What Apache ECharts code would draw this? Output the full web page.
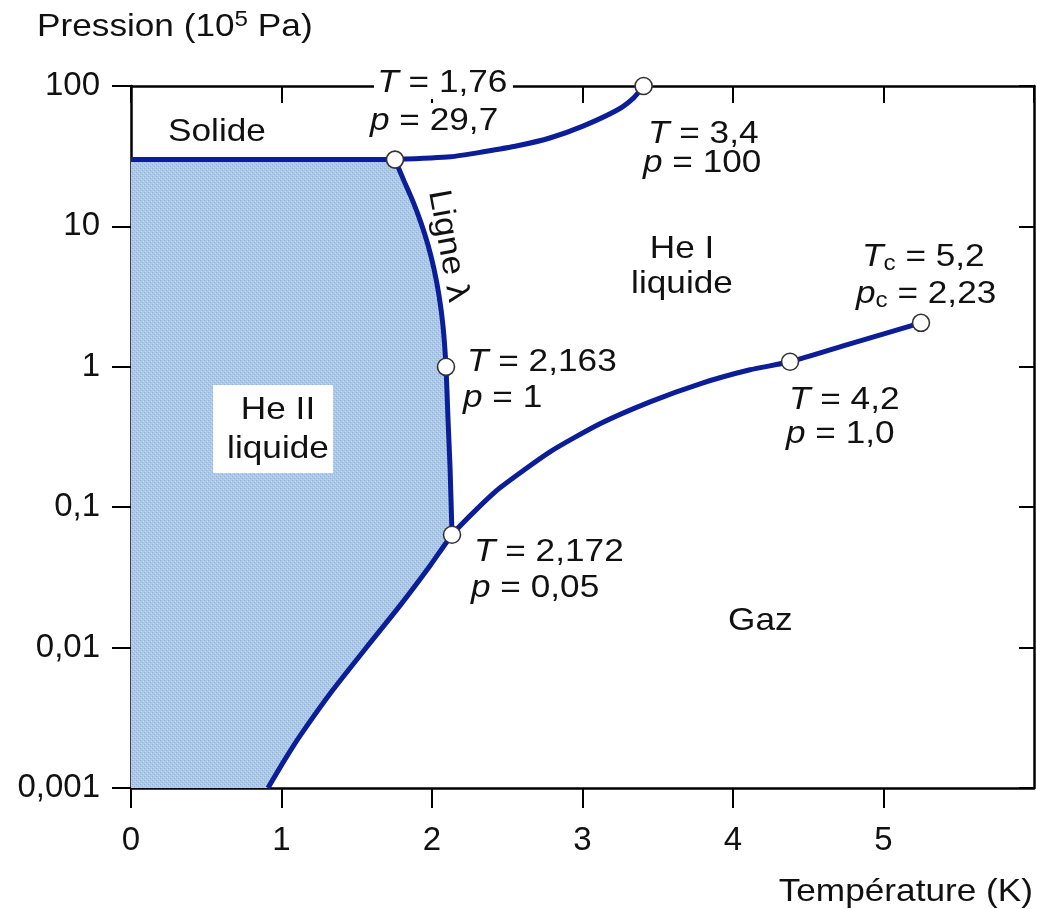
<!DOCTYPE html>
<html>
<head>
<meta charset="utf-8">
<script src="https://cdn.jsdelivr.net/npm/echarts@6/dist/echarts.min.js"></script>
<style>
html, body { margin: 0; padding: 0; background: #fff; }
#chart { width: 1037px; height: 909px; }
</style>
</head>
<body>
<div id="chart"></div>
<script>
// graduations
var xTicks = [0, 1, 2, 3, 4, 5];
var yTicks = [0.001, 0.01, 0.1, 1, 10, 100];
var yTickLabels = ['0,001', '0,01', '0,1', '1', '10', '100'];

// frontiere solide / He II (horizontale)
var solidT = [0, 1.754];
var solidP = [29.9, 29.9];
// courbe de fusion solide / He I
var meltT = [1.754, 2.123, 2.342, 2.568, 2.788, 3.007, 3.234, 3.340, 3.406];
var meltP = [29.9, 31.3, 34.0, 37.5, 42.8, 52.0, 67.7, 82.4, 100];
// ligne lambda
var lambdaT = [1.754, 1.814, 1.874, 1.927, 1.973, 2.013, 2.047, 2.073, 2.093, 2.106, 2.120, 2.133];
var lambdaP = [29.9, 21.1, 15.0, 10.6, 7.40, 4.99, 3.20, 1.96, 1.0, 0.433, 0.191, 0.0636];
// courbe de vaporisation
var vapT = [0.91, 1.017, 1.123, 1.342, 1.568, 1.787, 1.987, 2.133, 2.286, 2.452, 2.784, 3.116, 3.449, 3.781, 4.113, 4.379, 4.777, 5.249];
var vapP = [0.001, 0.00156, 0.00235, 0.0050, 0.01014, 0.0199, 0.0383, 0.0636, 0.0942, 0.1375, 0.248, 0.393, 0.563, 0.757, 0.952, 1.086, 1.458, 2.057];
// points remarquables
var ptT = [1.754, 3.406, 2.093, 2.133, 4.379, 5.249];
var ptP = [29.9, 100, 1.0, 0.0636, 1.086, 2.057];

function zip(a, b) {
	var out = [];
	for (var i = 0; i < a.length; i++) {
		out.push([a[i], b[i]]);
	}
	return out;
}

// contour de la zone He II
var heII = [[0, 0.001], [0, solidP[0]]].concat(zip(lambdaT, lambdaP));
var vapPts = zip(vapT, vapP);
for (var i = vapT.indexOf(lambdaT[lambdaT.length - 1]) - 1; i >= 0; i--) {
	heII.push(vapPts[i]);
}

// petite trame pour le remplissage
var tex = document.createElement('canvas');
tex.width = 4; tex.height = 4;
var g = tex.getContext('2d');
g.fillStyle = '#abc8e9';
g.fillRect(0, 0, 4, 4);
g.fillStyle = '#90b2dc';
g.fillRect(0, 0, 1, 1); g.fillRect(2, 2, 1, 1);
g.fillStyle = '#c6dbf0';
g.fillRect(1, 3, 1, 1); g.fillRect(3, 1, 1, 1);

var FONT = '"Liberation Sans", Arial, Helvetica, sans-serif';
var BLUE = '#0c1d98';
var INK = '#111';
var FS = 32;
var SX = 1.1;

var rich = {
	i: { fontStyle: 'italic', fontSize: FS, fontFamily: FONT, fill: INK },
	n: { fontSize: FS, fontFamily: FONT, fill: INK },
	c: { fontSize: 22, fontFamily: FONT, fill: INK, padding: [14, 0, 0, 0] },
	s: { fontSize: 22, fontFamily: FONT, fill: INK, padding: [0, 0, 14, 0] }
};

function label(x, y, text, extra) {
	var st = {
		text: text, rich: rich, fontSize: FS, fontFamily: FONT, fill: INK,
		align: 'left', verticalAlign: 'middle'
	};
	if (extra) {
		for (var k in extra) st[k] = extra[k];
	}
	return { type: 'text', x: x, y: y, z: 100, scaleX: SX, style: st };
}

var chart = echarts.init(document.getElementById('chart'));

var option = {
	animation: false,
	backgroundColor: '#fff',
	grid: { left: 131, right: 3, top: 86, bottom: 121, containLabel: false, outerBoundsMode: 'none' },
	xAxis: [{
		type: 'value', position: 'bottom', min: 0, max: 6, interval: 1,
		axisLine: { onZero: false, lineStyle: { color: '#000', width: 2.5 } },
		axisTick: { inside: false, length: 20, lineStyle: { color: '#000', width: 2 }, customValues: xTicks },
		axisLabel: { customValues: xTicks, fontSize: 33, fontFamily: FONT, color: INK, margin: 36 },
		splitLine: { show: false }
	}, {
		type: 'value', position: 'top', min: 0, max: 6, interval: 1,
		axisLine: { onZero: false, lineStyle: { color: '#000', width: 2.5 } },
		axisTick: { inside: true, length: 17, lineStyle: { color: '#000', width: 2 } },
		axisLabel: { show: false },
		splitLine: { show: false }
	}],
	yAxis: [{
		type: 'log', logBase: 10, position: 'left', min: 0.001, max: 100,
		axisLine: { onZero: false, lineStyle: { color: '#000', width: 2.5 } },
		axisTick: { inside: false, length: 19, lineStyle: { color: '#000', width: 2 } },
		axisLabel: {
			fontSize: 33, fontFamily: FONT, color: INK, margin: 31,
			formatter: function (v) {
				for (var j = 0; j < yTicks.length; j++) {
					if (Math.abs(Math.log10(yTicks[j]) - Math.log10(v)) < 1e-6) return yTickLabels[j];
				}
				return '';
			}
		},
		splitLine: { show: false }
	}, {
		type: 'log', logBase: 10, position: 'right', min: 0.001, max: 100,
		axisLine: { onZero: false, lineStyle: { color: '#000', width: 2.5 } },
		axisTick: { inside: true, length: 15, lineStyle: { color: '#000', width: 2 } },
		axisLabel: { show: false },
		splitLine: { show: false }
	}],
	series: [{
		type: 'custom',
		z: 1,
		silent: true,
		data: [[0, 0.001]],
		renderItem: function (params, api) {
			var pts = heII.map(function (d) { return api.coord(d); });
			return {
				type: 'polygon',
				shape: { points: pts },
				style: { fill: { image: tex, repeat: 'repeat' } }
			};
		}
	}, {
		name: 'Solide', type: 'line', z: 2, symbol: 'none',
		lineStyle: { color: BLUE, width: 5 },
		data: zip(solidT, solidP)
	}, {
		name: 'Fusion', type: 'line', z: 2, symbol: 'none', smooth: 0.2,
		lineStyle: { color: BLUE, width: 5 },
		data: zip(meltT, meltP)
	}, {
		name: 'Ligne lambda', type: 'line', z: 2, symbol: 'none', smooth: 0.2,
		lineStyle: { color: BLUE, width: 5 },
		data: zip(lambdaT, lambdaP)
	}, {
		name: 'Vaporisation', type: 'line', z: 2, symbol: 'none', smooth: 0.2,
		lineStyle: { color: BLUE, width: 5 },
		data: vapPts
	}, {
		name: 'Points', type: 'scatter', z: 3, symbol: 'circle', symbolSize: 17,
		itemStyle: { color: '#fff', borderColor: '#333', borderWidth: 1.6, opacity: 1 },
		data: zip(ptT, ptP)
	}],
	graphic: [
		{ type: 'rect', z: 50, shape: { x: 213, y: 385, width: 120, height: 88 }, style: { fill: '#fff' } },
		label(37, 27, '{n|Pression (10}{s|5}{n| Pa)}'),
		label(1033, 892, 'Température (K)', { align: 'right' }),
		label(374, 83, '{i|T}{n| = 1,76}', { backgroundColor: '#fff', padding: [0, 5, 0, 3] }),
		label(370, 121, '{i|p}{n| = 29,7}'),
		label(648, 134, '{i|T}{n| = 3,4}'),
		label(643, 163, '{i|p}{n| = 100}'),
		label(467, 362, '{i|T}{n| = 2,163}'),
		label(463, 398, '{i|p}{n| = 1}'),
		label(474, 552, '{i|T}{n| = 2,172}'),
		label(471, 588, '{i|p}{n| = 0,05}'),
		label(789, 400, '{i|T}{n| = 4,2}'),
		label(786, 434, '{i|p}{n| = 1,0}'),
		label(862, 257, '{i|T}{c|c}{n| = 5,2}'),
		label(856, 294, '{i|p}{c|c}{n| = 2,23}'),
		label(168, 132, 'Solide'),
		label(682, 249, 'He I', { align: 'center' }),
		label(682, 284, 'liquide', { align: 'center' }),
		label(278, 410, 'He II', { align: 'center' }),
		label(278, 449, 'liquide', { align: 'center' }),
		label(728, 621, 'Gaz'),
		{ type: 'text', x: 448, y: 246, z: 100, rotation: -1.39, scaleX: SX,
			style: { text: 'Ligne λ', fontSize: FS, fontFamily: FONT, fill: INK, align: 'center', verticalAlign: 'middle' } }
	]
};

chart.setOption(option);
</script>
</body>
</html>
